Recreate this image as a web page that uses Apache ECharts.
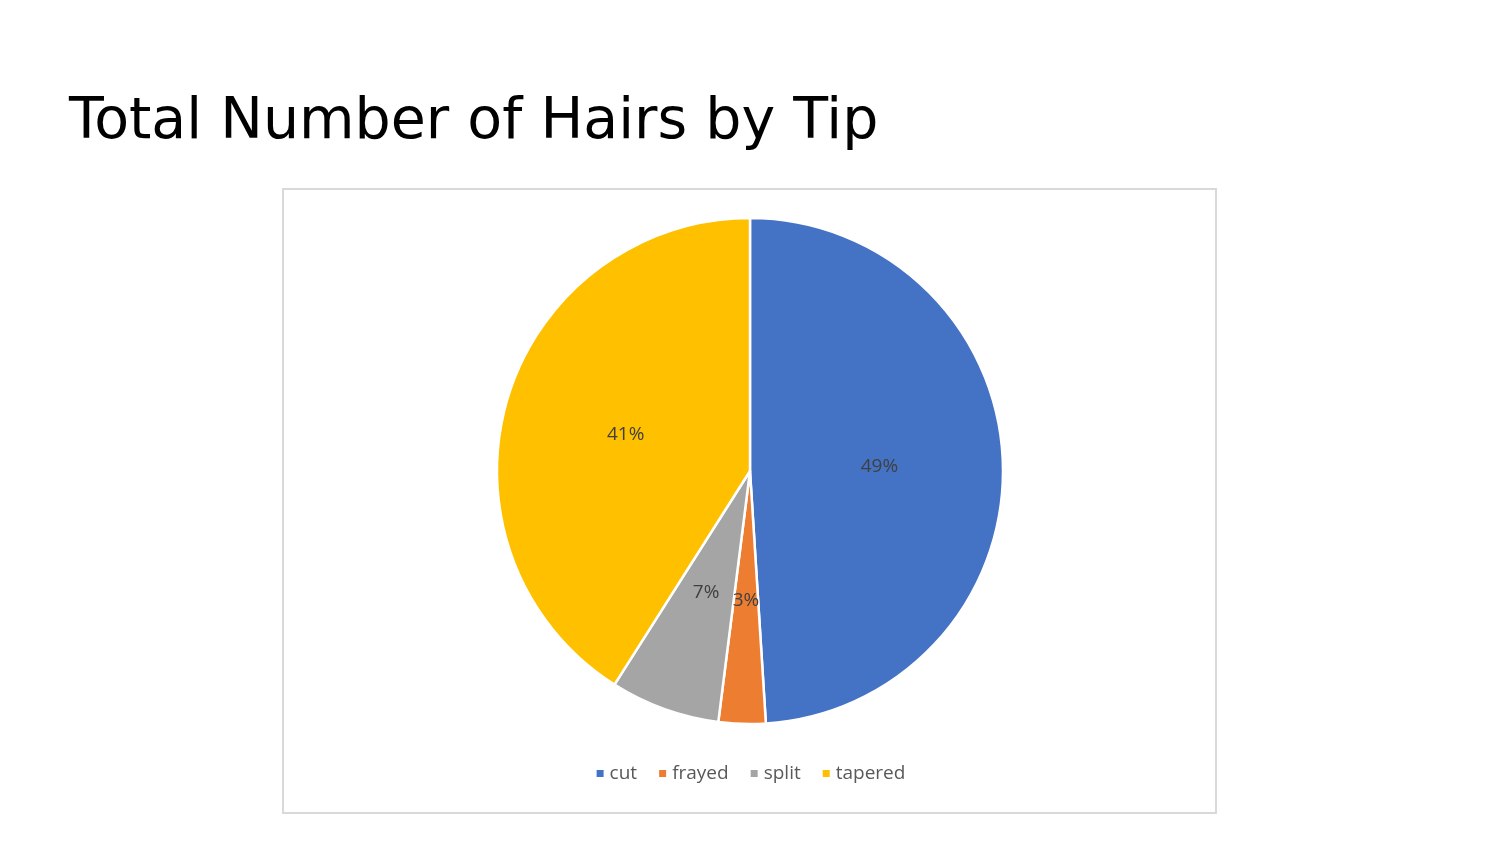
<!DOCTYPE html>
<html>
<head>
<meta charset="utf-8">
<script src="https://cdn.jsdelivr.net/npm/echarts@6/dist/echarts.min.js"></script>
<style>html,body{margin:0;padding:0;background:#fff}#chart{width:1500px;height:844px}</style>
</head>
<body>
<div id="chart"></div>
<script>
var categories = ['cut', 'frayed', 'split', 'tapered'];
var values = [49, 3, 7, 41];
var colors = ['#4472C4', '#ED7D31', '#A5A5A5', '#FFC000'];

var myChart = echarts.init(document.getElementById('chart'));
myChart.setOption({
    animation: false,
    color: colors,
    title: {
        text: 'Total Number of Hairs by Tip',
        left: 64,
        top: 90,
        textStyle: {fontFamily: 'DejaVu Sans', fontSize: 57, fontWeight: 'normal', color: '#000'}
    },
    graphic: [{
        type: 'rect',
        shape: {x: 283, y: 189, width: 933, height: 624},
        style: {fill: 'none', stroke: '#d9d9d9', lineWidth: 2},
        z: -1
    }],
    legend: {
        bottom: 56,
        left: 'center',
        itemWidth: 9,
        itemHeight: 9,
        itemGap: 20,
        icon: 'rect',
        textStyle: {fontFamily: 'Open Sans', fontSize: 19, color: '#595959'},
        data: categories
    },
    series: [{
        type: 'pie',
        center: [750, 471],
        radius: 253,
        startAngle: 90,
        clockwise: true,
        itemStyle: {borderColor: '#fff', borderWidth: 2.5},
        label: {
            position: 'inner',
            formatter: '{d}%',
            fontFamily: 'Open Sans',
            fontSize: 19,
            color: '#404040'
        },
        data: categories.map(function (c, i) { return {name: c, value: values[i]}; })
    }]
});
</script>
</body>
</html>
